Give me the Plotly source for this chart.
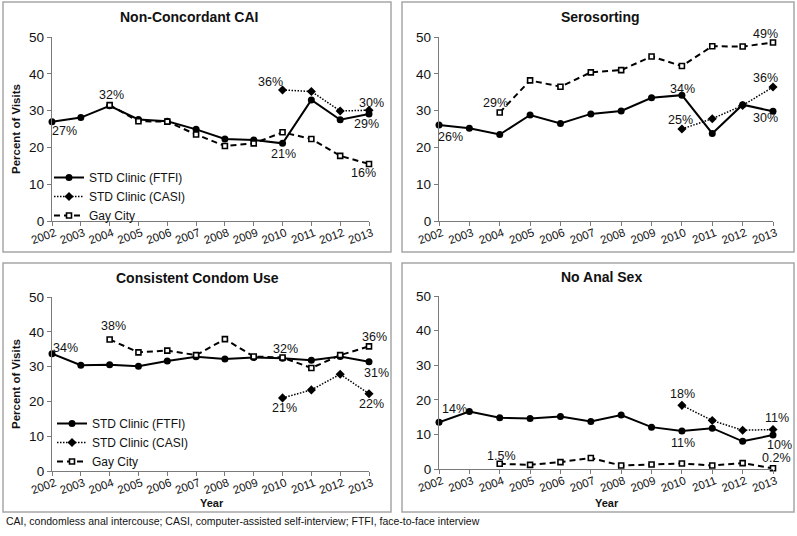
import plotly.graph_objects as go

# ---------------- data ----------------
years = list(range(2002, 2014))
years_gay = years[2:]     # Gay City from 2004
years_casi = years[8:]    # CASI from 2010
tick_labels = [str(y) for y in years]

panel_titles = ["Non-Concordant CAI", "Serosorting", "Consistent Condom Use", "No Anal Sex"]
series_names = ["STD Clinic (FTFI)", "STD Clinic (CASI)", "Gay City"]

ncai_ftfi = [27.0, 28.1, 31.3, 27.6, 27.1, 24.9, 22.3, 22.0, 21.1, 32.9, 27.5, 29.1]
ncai_casi = [35.6, 35.2, 29.9, 30.1]
ncai_gay = [31.5, 27.1, 27.0, 23.5, 20.4, 21.1, 24.1, 22.3, 17.7, 15.5]

sero_ftfi = [26.1, 25.2, 23.5, 28.8, 26.5, 29.1, 29.9, 33.5, 34.2, 23.8, 31.6, 29.8]
sero_casi = [25.0, 27.8, 31.4, 36.4]
sero_gay = [29.5, 38.2, 36.5, 40.4, 41.0, 44.7, 42.1, 47.5, 47.4, 48.5]

ccu_ftfi = [33.7, 30.4, 30.5, 30.1, 31.6, 32.8, 32.2, 32.6, 32.4, 31.8, 32.9, 31.4]
ccu_casi = [21.0, 23.3, 27.8, 22.2]
ccu_gay = [37.8, 34.1, 34.6, 33.3, 37.9, 32.9, 32.6, 29.6, 33.3, 35.8]

nas_ftfi = [13.5, 16.6, 14.8, 14.6, 15.2, 13.7, 15.6, 12.1, 11.0, 11.8, 8.0, 9.8]
nas_casi = [18.4, 14.0, 11.2, 11.4]
nas_gay = [1.5, 1.2, 2.0, 3.2, 1.0, 1.3, 1.6, 1.0, 1.7, 0.2]

# data labels: (series index, year, text)
ncai_labels = [(0, 2002, "27%"), (2, 2004, "32%"), (1, 2010, "36%"), (1, 2013, "30%"),
               (0, 2013, "29%"), (0, 2010, "21%"), (2, 2013, "16%")]
sero_labels = [(0, 2002, "26%"), (2, 2004, "29%"), (0, 2010, "34%"), (1, 2010, "25%"),
               (2, 2013, "49%"), (1, 2013, "36%"), (0, 2013, "30%")]
ccu_labels = [(0, 2002, "34%"), (2, 2004, "38%"), (2, 2010, "32%"), (2, 2013, "36%"),
              (0, 2013, "31%"), (1, 2010, "21%"), (1, 2013, "22%")]
nas_labels = [(0, 2002, "14%"), (2, 2004, "1.5%"), (1, 2010, "18%"), (0, 2010, "11%"),
              (1, 2013, "11%"), (0, 2013, "10%"), (2, 2013, "0.2%")]

footer = ("CAI, condomless anal intercouse; CASI, computer-assisted self-interview; "
          "FTFI, face-to-face interview")

# ---------------- layout / styling ----------------
W, H = 797, 536
FONT = "Liberation Sans, Arial, sans-serif"
TXT = "#111111"
AX = "#7a7a7a"

def px(v):
    return v / W

def py(v):
    return 1 - v / H

# label offsets in px (dx right, dy down) matching label order above
ncai_off = [(12, 9), (2, -10), (-12, -8), (2, -7), (-3, 10), (1, 11), (-6, 9)]
sero_off = [(11, 12), (-4, -9), (1, -6), (-1, -9), (-8, -9), (-8, -9), (-8, 7)]
ccu_off = [(13, -6), (4, -13), (3, -9), (5, -9), (7, 11), (2, 10), (2, 10)]
nas_off = [(15, -13), (2, -8), (1, -11), (1, 12), (4, -12), (6, 10), (3, -10)]

panels = [
    dict(title=panel_titles[0], data=(ncai_ftfi, ncai_casi, ncai_gay), labels=ncai_labels,
         off=ncai_off, x=(52, 369), y=(221, 37), box=(3, 2, 391, 252), tc=(189, 17),
         ylab=True, xlab=False, legend="legend"),
    dict(title=panel_titles[1], data=(sero_ftfi, sero_casi, sero_gay), labels=sero_labels,
         off=sero_off, x=(439, 773), y=(221, 37), box=(402, 2, 794, 252), tc=(600, 17),
         ylab=False, xlab=False, legend=None),
    dict(title=panel_titles[2], data=(ccu_ftfi, ccu_casi, ccu_gay), labels=ccu_labels,
         off=ccu_off, x=(52, 369), y=(471, 297), box=(3, 263, 391, 512), tc=(197, 278),
         ylab=True, xlab=True, legend="legend2"),
    dict(title=panel_titles[3], data=(nas_ftfi, nas_casi, nas_gay), labels=nas_labels,
         off=nas_off, x=(439, 773), y=(469, 296), box=(402, 263, 794, 512), tc=(601, 277),
         ylab=False, xlab=True, legend=None),
]

series_x = [years, years_casi, years_gay]
series_style = [
    dict(line=dict(color="#000000", width=2, dash="solid"),
         marker=dict(symbol="circle", size=7, color="#000000")),
    dict(line=dict(color="#000000", width=1.5, dash="1.5px,1.5px"),
         marker=dict(symbol="diamond", size=7, color="#000000")),
    dict(line=dict(color="#000000", width=2, dash="6px,4px"),
         marker=dict(symbol="square", size=5, color="#ffffff",
                     line=dict(color="#000000", width=1.6))),
]

fig = go.Figure()
annotations = []
shapes = []
layout_axes = {}

for i, p in enumerate(panels):
    n = "" if i == 0 else str(i + 1)
    xa, ya = "x" + n, "y" + n
    for s in range(3):
        fig.add_trace(go.Scatter(
            x=series_x[s], y=p["data"][s], mode="lines+markers",
            name=series_names[s], xaxis=xa, yaxis=ya, cliponaxis=False,
            showlegend=p["legend"] is not None,
            legend=p["legend"] if p["legend"] else "legend",
            **series_style[s]))
    layout_axes["xaxis" + n] = dict(
        domain=[px(p["x"][0]), px(p["x"][1])], anchor=ya, range=[2002, 2013],
        tickvals=years, ticktext=tick_labels, tickangle=-20, automargin=False,
        ticklabelstandoff=-4, ticklabelshift=3,
        ticks="outside", ticklen=4, tickcolor=AX, showline=True, linecolor=AX,
        linewidth=1.3, showgrid=False, zeroline=False,
        tickfont=dict(family=FONT, size=11.5, color=TXT))
    layout_axes["yaxis" + n] = dict(
        domain=[py(p["y"][0]), py(p["y"][1])], anchor=xa, range=[0, 50], dtick=10,
        ticks="outside", ticklen=4, tickcolor=AX, showline=True, linecolor=AX,
        linewidth=1.3, showgrid=False, zeroline=False, automargin=False,
        tickfont=dict(family=FONT, size=13.5, color=TXT))
    b = p["box"]
    shapes.append(dict(type="rect", xref="paper", yref="paper",
                       x0=px(b[0]), x1=px(b[2]), y0=py(b[3]), y1=py(b[1]),
                       line=dict(color="#a6a6a6", width=1.5), layer="below"))
    annotations.append(dict(text="<b>%s</b>" % p["title"], xref="paper", yref="paper",
                            x=px(p["tc"][0]), y=py(p["tc"][1]),
                            showarrow=False, xanchor="center", yanchor="middle",
                            font=dict(family=FONT, size=14, color=TXT)))
    if p["ylab"]:
        annotations.append(dict(text="<b>Percent of Visits</b>", xref="paper", yref="paper",
                                x=px(16), y=(py(p["y"][0]) + py(p["y"][1])) / 2,
                                textangle=-90, showarrow=False,
                                xanchor="center", yanchor="middle",
                                font=dict(family=FONT, size=11.5, color=TXT)))
    if p["xlab"]:
        annotations.append(dict(text="<b>Year</b>", xref="paper", yref="paper",
                                x=(px(p["x"][0]) + px(p["x"][1])) / 2 + px(1), y=py(503),
                                showarrow=False, xanchor="center", yanchor="middle",
                                font=dict(family=FONT, size=11, color=TXT)))
    for (s, yr, txt), (dx, dy) in zip(p["labels"], p["off"]):
        yv = p["data"][s][series_x[s].index(yr)]
        annotations.append(dict(text=txt, xref=xa, yref=ya, x=yr, y=yv,
                                xshift=dx, yshift=-dy, showarrow=False,
                                xanchor="center", yanchor="middle",
                                font=dict(family=FONT, size=12.5, color=TXT)))

annotations.append(dict(text=footer, xref="paper", yref="paper", x=px(4), y=py(521),
                        showarrow=False, xanchor="left", yanchor="middle",
                        font=dict(family=FONT, size=10.5, color=TXT)))

legend_common = dict(bgcolor="rgba(0,0,0,0)", font=dict(family=FONT, size=12, color=TXT),
                     xanchor="left", yanchor="top", tracegroupgap=0, itemwidth=30)
fig.update_layout(
    template="none",
    width=W, height=H, margin=dict(l=0, r=0, t=0, b=0, autoexpand=False),
    paper_bgcolor="white", plot_bgcolor="white",
    annotations=annotations, shapes=shapes,
    legend=dict(x=px(49), y=py(163), **legend_common),
    legend2=dict(x=px(52), y=py(409), **legend_common),
    **layout_axes)

fig.write_html("out.html", config={"displayModeBar": False},
               post_script="document.body.style.margin='0';document.body.style.overflow='hidden';")
